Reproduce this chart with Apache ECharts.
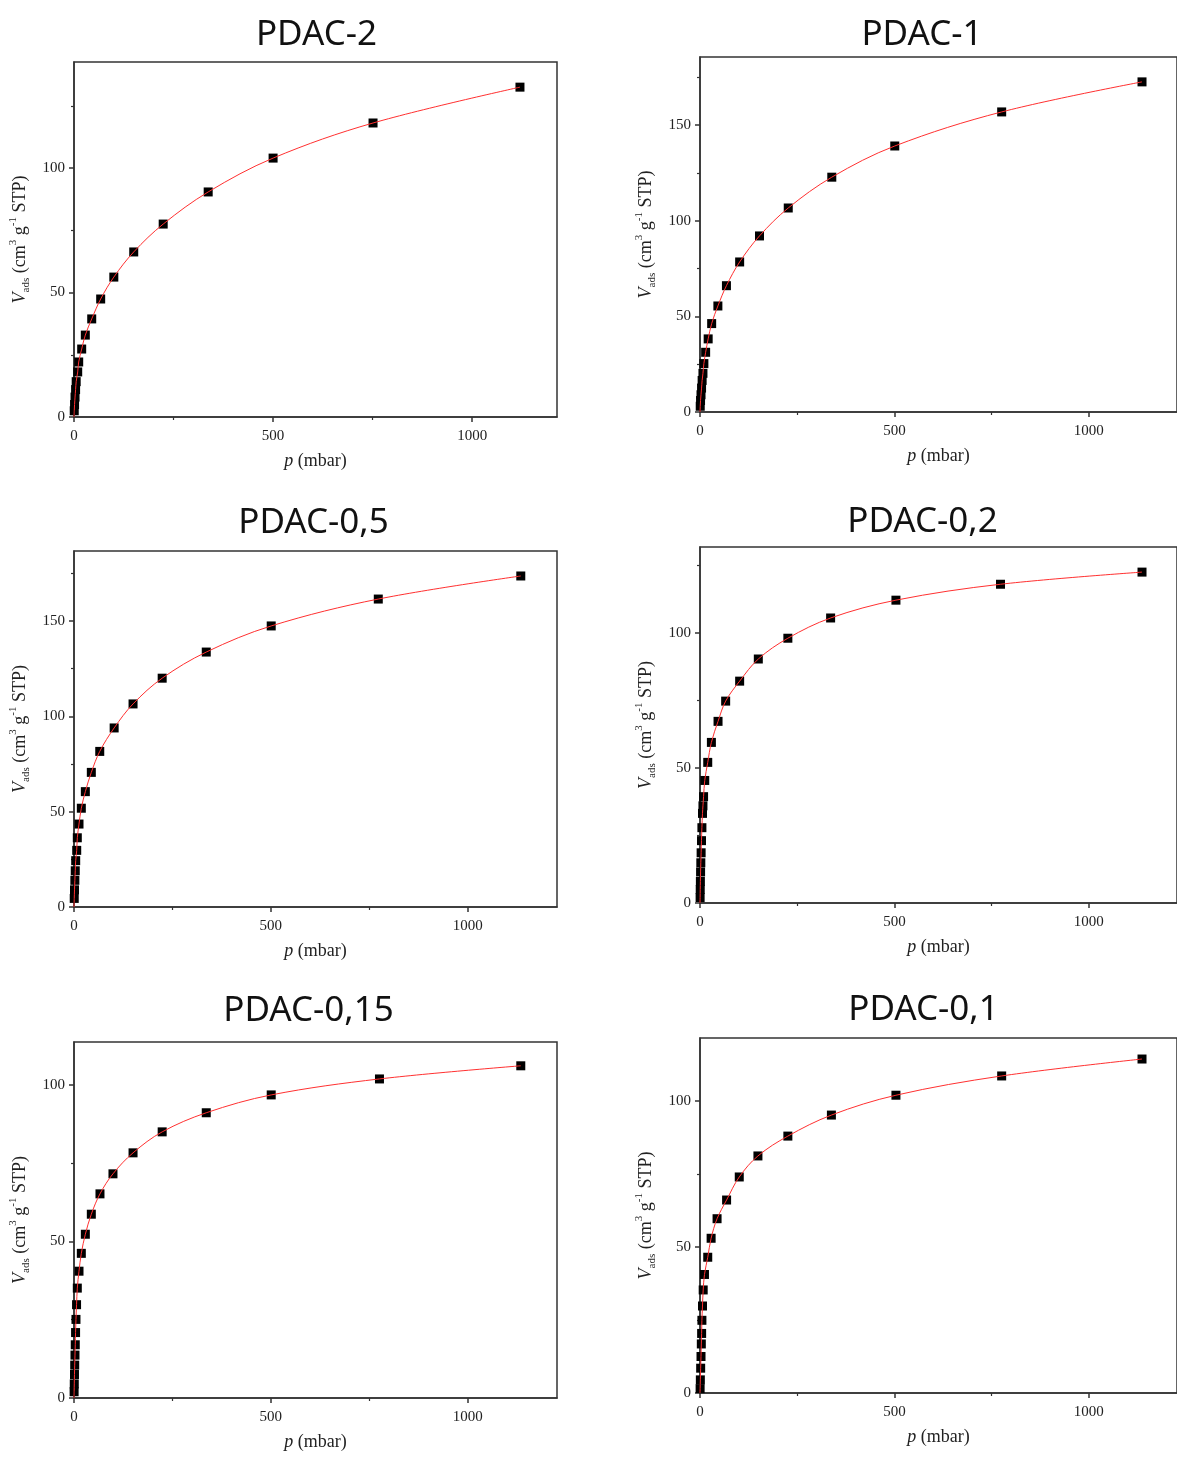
<!DOCTYPE html>
<html>
<head>
<meta charset="utf-8">
<script src="https://cdn.jsdelivr.net/npm/echarts@6/dist/echarts.min.js"></script>
<style>
html, body { margin: 0; padding: 0; background: #fff; }
#main { width: 1177px; height: 1458px; }
</style>
</head>
<body>
<div id="main"></div>
<script>
// sample names (panel titles)
var names = ['PDAC-2', 'PDAC-1', 'PDAC-0,5', 'PDAC-0,2', 'PDAC-0,15', 'PDAC-0,1'];

// pressure p (mbar) and adsorbed volume V (cm3/g STP)
var p_2 = [0.6, 1.4, 2.6, 4, 5.5, 9.3, 11.8, 19.3, 28.4, 44.5, 67, 100, 150, 224, 337, 500, 751, 1120];
var v_2 = [2.5, 5, 8, 11, 14.2, 18.1, 22.1, 27.3, 32.9, 39.4, 47.4, 56.2, 66.3, 77.5, 90.4, 104, 118.1, 132.5];

var p_1 = [0.6, 1.4, 2.6, 4, 5.5, 7.6, 10, 14.5, 21, 30, 46, 68, 102, 153, 227, 339, 501, 776, 1137];
var v_1 = [3, 6, 9, 12.5, 16.5, 20.2, 25.3, 31.2, 38.2, 46.2, 55.4, 66, 78.4, 92, 106.6, 122.7, 139, 156.8, 172.5];

var p_05 = [0.6, 1.3, 2.2, 3.2, 4.3, 6.9, 8.4, 12.7, 18.6, 28.8, 44, 65.4, 102, 150, 224, 336, 501, 773, 1135];
var v_05 = [4.5, 9, 14, 19, 24.3, 29.7, 36.3, 43.5, 51.8, 60.5, 70.6, 81.6, 93.9, 106.5, 120, 133.7, 147.4, 161.5, 173.6];

var p_02 = [0.3, 0.6, 1, 1.5, 2.1, 2.9, 3.8, 4.9, 6.4, 7.6, 9.2, 12.2, 19.9, 29.3, 46.4, 66, 102, 150, 226, 336, 504, 773, 1137];
var v_02 = [2, 5, 8, 11.5, 14.9, 18.6, 23.1, 27.9, 33.2, 36, 39.4, 45.4, 52.1, 59.5, 67.3, 74.8, 82.2, 90.4, 98.1, 105.6, 112.2, 118.1, 122.6];

var p_015 = [0.3, 0.7, 1.2, 1.8, 2.5, 3.2, 4, 5, 6.5, 8.4, 12.7, 18.6, 28.8, 44, 66, 99, 150, 224, 336, 501, 776, 1135];
var v_015 = [2, 4.5, 7.5, 10.5, 13.7, 17, 20.9, 25.1, 29.8, 35.1, 40.5, 46.2, 52.3, 58.7, 65.2, 71.6, 78.3, 85, 91.1, 96.8, 101.9, 106.1];

var p_01 = [0.3, 0.9, 1.7, 2.6, 3.4, 4.2, 4.9, 6.4, 8.2, 11.5, 19.9, 28.6, 43.9, 68.4, 101, 149, 226, 338, 504, 776, 1137];
var v_01 = [1.5, 4.5, 8.5, 12.5, 16.8, 20.4, 24.9, 29.8, 35.3, 40.6, 46.5, 53, 59.7, 66.1, 74, 81.2, 88, 95.2, 102, 108.6, 114.4];

var pData = [p_2, p_1, p_05, p_02, p_015, p_01];
var vData = [v_2, v_1, v_05, v_02, v_015, v_01];

// axis ranges and tick values
var xMax = [1213, 1227, 1227, 1227, 1227, 1227];
var yMax = [142.6, 185.5, 186.7, 131.9, 113.7, 121.6];
var xTicks = [0, 500, 1000];
var xMinor = [250, 750];
var yTicks = [[0, 50, 100], [0, 50, 100, 150], [0, 50, 100, 150], [0, 50, 100], [0, 50, 100], [0, 50, 100]];
var yMinor = [[25, 75, 125], [25, 75, 125, 175], [25, 75, 125, 175], [25, 75, 125], [25, 75], [25, 75]];

var boxes = [
    { left: 74, top: 62, width: 483, height: 355 },
    { left: 700, top: 57, width: 482, height: 355 },
    { left: 74, top: 551, width: 483, height: 356 },
    { left: 700, top: 547, width: 482, height: 356 },
    { left: 74, top: 1042, width: 483, height: 356 },
    { left: 700, top: 1038, width: 482, height: 355 }
];
var titlePos = [[316.5, 18], [922, 18], [313.5, 506], [922.5, 505], [308.5, 994], [923.5, 993]];

var serif = '"Liberation Serif", "Times New Roman", serif';
var axisColor = '#333';

var yName = '{i|V}{s|ads}{n| (cm}{p|3}{n| g}{p|-1}{n| STP)}';
var yRich = {
    i: { fontFamily: serif, fontStyle: 'italic', fontSize: 18, lineHeight: 24, color: '#222' },
    s: { fontFamily: serif, fontSize: 11, lineHeight: 10, verticalAlign: 'bottom', color: '#222' },
    n: { fontFamily: serif, fontSize: 18, lineHeight: 24, color: '#222' },
    p: { fontFamily: serif, fontSize: 11, lineHeight: 10, verticalAlign: 'top', color: '#222' }
};
var xName = '{i|p}{n| (mbar)}';
var xRich = {
    i: { fontFamily: serif, fontStyle: 'italic', fontSize: 18, color: '#222' },
    n: { fontFamily: serif, fontSize: 18, color: '#222' }
};

function plain(v) { return String(v); }

var option = {
    backgroundColor: '#fff',
    animation: false,
    title: [],
    grid: [],
    xAxis: [],
    yAxis: [],
    series: []
};

for (var i = 0; i < 6; i++) {
    option.title.push({
        text: names[i],
        left: titlePos[i][0],
        top: titlePos[i][1],
        textAlign: 'center',
        padding: 0,
        textStyle: { fontFamily: '"Noto Sans", "Open Sans", sans-serif', fontSize: 35, fontWeight: 'normal', color: '#111' }
    });
    option.grid.push({
        left: boxes[i].left, top: boxes[i].top, width: boxes[i].width, height: boxes[i].height,
        show: true, borderColor: axisColor, borderWidth: 1.5, backgroundColor: 'transparent'
    });
    // main x axis
    option.xAxis.push({
        type: 'value', gridIndex: i, min: 0, max: xMax[i], position: 'bottom',
        name: xName, nameLocation: 'middle', nameGap: 35,
        nameTextStyle: { rich: xRich },
        axisLine: { show: true, onZero: false, lineStyle: { color: axisColor, width: 1.5 } },
        axisTick: { show: true, length: 5, customValues: xTicks, lineStyle: { color: axisColor, width: 1.5 } },
        axisLabel: { customValues: xTicks, formatter: plain, margin: 12, fontFamily: serif, fontSize: 15, color: '#222' },
        splitLine: { show: false }
    });
    // minor x ticks
    option.xAxis.push({
        type: 'value', gridIndex: i, min: 0, max: xMax[i], position: 'bottom',
        axisLine: { show: false, onZero: false },
        axisTick: { show: true, length: 3, customValues: xMinor, lineStyle: { color: axisColor, width: 1.2 } },
        axisLabel: { show: false },
        splitLine: { show: false }
    });
    // main y axis
    option.yAxis.push({
        type: 'value', gridIndex: i, min: 0, max: yMax[i], position: 'left',
        name: yName, nameLocation: 'middle', nameGap: 42, nameRotate: 90,
        nameTextStyle: { rich: yRich },
        axisLine: { show: true, onZero: false, lineStyle: { color: axisColor, width: 1.5 } },
        axisTick: { show: true, length: 5, customValues: yTicks[i], lineStyle: { color: axisColor, width: 1.5 } },
        axisLabel: { customValues: yTicks[i], formatter: plain, margin: 9, fontFamily: serif, fontSize: 15, color: '#222' },
        splitLine: { show: false }
    });
    // minor y ticks
    option.yAxis.push({
        type: 'value', gridIndex: i, min: 0, max: yMax[i], position: 'left',
        axisLine: { show: false, onZero: false },
        axisTick: { show: true, length: 3, customValues: yMinor[i], lineStyle: { color: axisColor, width: 1.2 } },
        axisLabel: { show: false },
        splitLine: { show: false }
    });

    var pts = pData[i].map(function (p, k) { return [p, vData[i][k]]; });
    option.series.push({
        type: 'scatter', xAxisIndex: 2 * i, yAxisIndex: 2 * i,
        symbol: 'rect', symbolSize: 9,
        itemStyle: { color: '#000', opacity: 1 },
        data: pts, z: 2
    });
    // red fit curve through the origin and the measured points
    option.series.push({
        type: 'line', xAxisIndex: 2 * i, yAxisIndex: 2 * i,
        smooth: 0.35, showSymbol: false, symbol: 'none',
        lineStyle: { color: '#ff3030', width: 1 },
        data: [[0, 0]].concat(pts), z: 3
    });
}

var myChart = echarts.init(document.getElementById('main'));
myChart.setOption(option);
</script>
</body>
</html>
